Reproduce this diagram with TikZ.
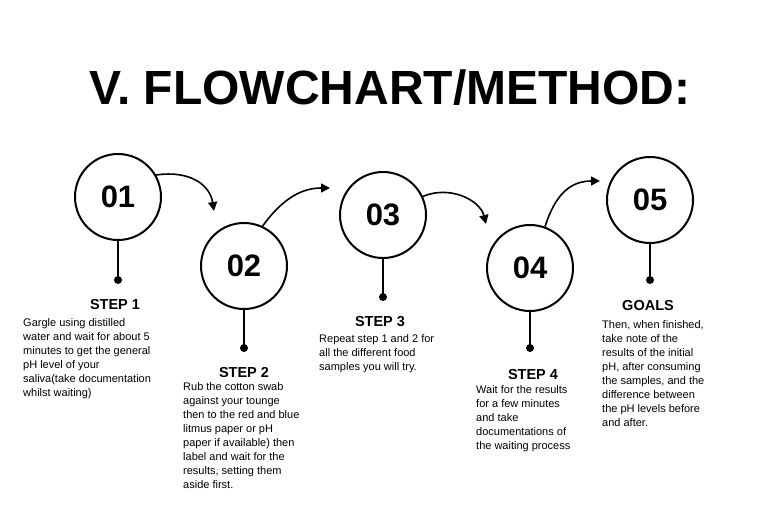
\documentclass[tikz,border=0pt]{standalone}
\usepackage{fontspec}
\setmainfont{Liberation Sans}
\usetikzlibrary{arrows.meta}
\begin{document}
\begin{tikzpicture}[x=1pt,y=-1pt,
  circ/.style={circle,draw,line width=2pt,minimum size=86pt,inner sep=0pt,font=\bfseries\fontsize{31}{31}\selectfont},
  stem/.style={line width=2pt},
  dotn/.style={circle,fill,inner sep=0pt,minimum size=8pt},
  head/.style={font=\bfseries\fontsize{14.5}{16}\selectfont},
  body/.style={font=\fontsize{11}{14}\selectfont,align=left,anchor=north west,inner sep=0pt},
  flow/.style={line width=1.6pt,-{Triangle[length=9pt,width=9pt]}}]
\useasboundingbox (0,0) rectangle (768,532);
\node[font=\bfseries\fontsize{48}{50}\selectfont] (title) at (390,88) {V. FLOWCHART/METHOD:};
\node[circ] (c1) at (118,197) {01};
\node[circ] (c2) at (244,266) {02};
\node[circ] (c3) at (383,215) {03};
\node[circ] (c4) at (530,268) {04};
\node[circ] (c5) at (650,200) {05};
\node[dotn] (d1) at (118,280) {};
\node[dotn] (d2) at (244,348) {};
\node[dotn] (d3) at (383,297) {};
\node[dotn] (d4) at (530,348) {};
\node[dotn] (d5) at (650,280) {};
\foreach \i in {1,...,5} \draw[stem] (c\i.south) -- (d\i.center);
\coordinate (a1) at (214,211);
\coordinate (a2) at (330,188);
\coordinate (a3) at (486,224);
\coordinate (a4) at (600,181);
\draw[flow] (c1.30) .. controls (190,170) and (210,185) .. (a1);
\draw[flow] (c2.65) .. controls (285,195) and (305,188) .. (a2);
\draw[flow] (c3.25) .. controls (450,185) and (480,200) .. (a3);
\draw[flow] (c4.70) .. controls (555,195) and (570,181) .. (a4);
\node[head] (h1) at (115,305) {STEP 1};
\node[head] (h2) at (244,373) {STEP 2};
\node[head] (h3) at (380,322) {STEP 3};
\node[head] (h4) at (533,375) {STEP 4};
\node[head] (h5) at (648,306) {GOALS};
\node[body] (t1) at (23,318) {Gargle using distilled\\water and wait for about 5\\minutes to get the general\\pH level of your\\saliva(take documentation\\whilst waiting)};
\node[body] (t2) at (183,382) {Rub the cotton swab\\against your tounge\\then to the red and blue\\litmus paper or pH\\paper if available) then\\label and wait for the\\results, setting them\\aside first.};
\node[body] (t3) at (319,334) {Repeat step 1 and 2 for\\all the different food\\samples you will try.};
\node[body] (t4) at (476,385) {Wait for the results\\for a few minutes\\and take\\documentations of\\the waiting process};
\node[body] (t5) at (602,320) {Then, when finished,\\take note of the\\results of the initial\\pH, after consuming\\the samples, and the\\difference between\\the pH levels before\\and after.};
\end{tikzpicture}
\end{document}
